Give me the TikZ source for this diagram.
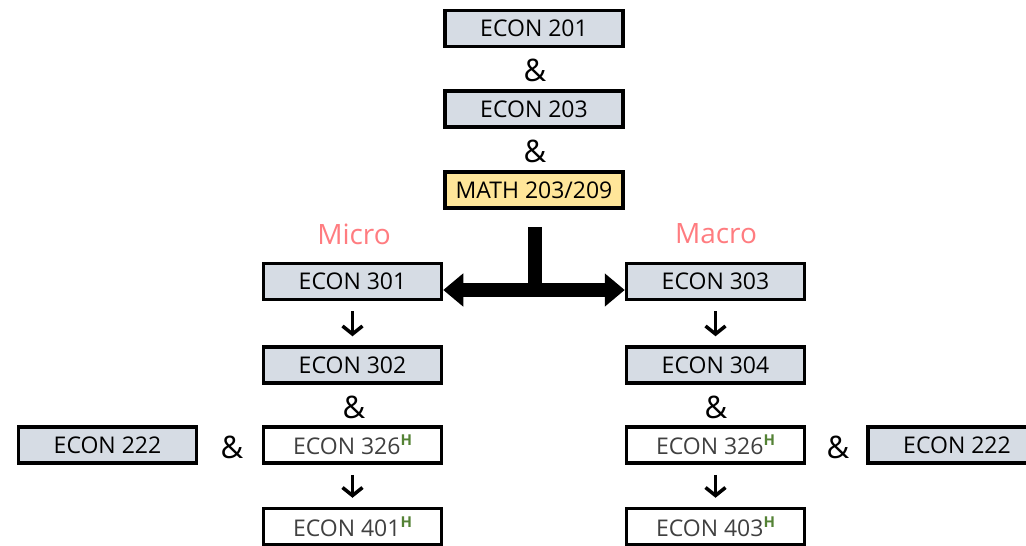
\documentclass[tikz,border=0pt]{standalone}
\usepackage{fontspec}
\setmainfont{Open Sans}
\usetikzlibrary{arrows.meta}
\definecolor{boxgray}{HTML}{D6DCE4}
\definecolor{mathyellow}{HTML}{FFE699}
\definecolor{trackred}{HTML}{FF7C80}
\definecolor{hgreen}{HTML}{548235}
\definecolor{textgray}{HTML}{404040}
\tikzset{
  course/.style={draw, line width=3.5pt, fill=boxgray, minimum width=178pt,
    minimum height=36pt, inner sep=0pt, font=\fontsize{23}{27}\selectfont},
  honors/.style={course, fill=white, text=textgray},
  amp/.style={font=\fontsize{31}{34}\selectfont, inner sep=0pt},
  track/.style={text=trackred, font=\fontsize{28}{32}\selectfont, inner sep=0pt},
  down/.style={line width=3.5pt, -{Straight Barb[length=8pt,width=20pt]},
    shorten <=10pt, shorten >=9pt},
}
\newcommand{\hon}{\raisebox{9pt}{\fontsize{15}{15}\selectfont\textcolor{hgreen}{\textbf{H}}}}
\begin{document}
\begin{tikzpicture}[x=1pt,y=-1pt]
    \useasboundingbox (0,0) rectangle (1026,546);
    % core sequence
    \node[course] (e201) at (534,28.5) {ECON 201};
    \node[amp] (and1) at (535,70) {\&};
    \node[course] (e203) at (534,109) {ECON 203};
    \node[amp] (and2) at (535,151) {\&};
    \node[course,fill=mathyellow] (math) at (534,190) {MATH 203/209};
    % micro track
    \node[track] (micro) at (354,234) {Micro};
    \node[course] (e301) at (352.5,281.5) {ECON 301};
    \node[course] (e302) at (352.5,365) {ECON 302};
    \node[amp] (and3) at (354,407) {\&};
    \node[honors] (e326a) at (352.5,445) {ECON 326\hon};
    \node[amp] (and4) at (232,447) {\&};
    \node[course] (e222a) at (107.5,445) {ECON 222};
    \node[honors] (e401) at (352.5,526.5) {ECON 401\hon};
    % macro track
    \node[track] (macro) at (716,234) {Macro};
    \node[course] (e303) at (715.5,281.5) {ECON 303};
    \node[course] (e304) at (715.5,365) {ECON 304};
    \node[amp] (and5) at (716,407) {\&};
    \node[honors] (e326b) at (715.5,445) {ECON 326\hon};
    \node[amp] (and6) at (838,447) {\&};
    \node[course] (e222b) at (957,445) {ECON 222};
    \node[honors] (e403) at (715.5,526.5) {ECON 403\hon};
    % split into the two tracks
    \coordinate (stem) at (535,227);
    \coordinate (split) at (535,290);
    \draw[line width=14pt] (stem) -- ([yshift=7pt]split);
    \draw[line width=14pt, {Triangle[length=20pt,width=32pt]}-{Triangle[length=20pt,width=32pt]}]
      (e301.east |- split) -- (e303.west |- split);
    \draw[down] (e301) -- (e302);
    \draw[down] (e326a) -- (e401);
    \draw[down] (e303) -- (e304);
    \draw[down] (e326b) -- (e403);
\end{tikzpicture}
\end{document}
